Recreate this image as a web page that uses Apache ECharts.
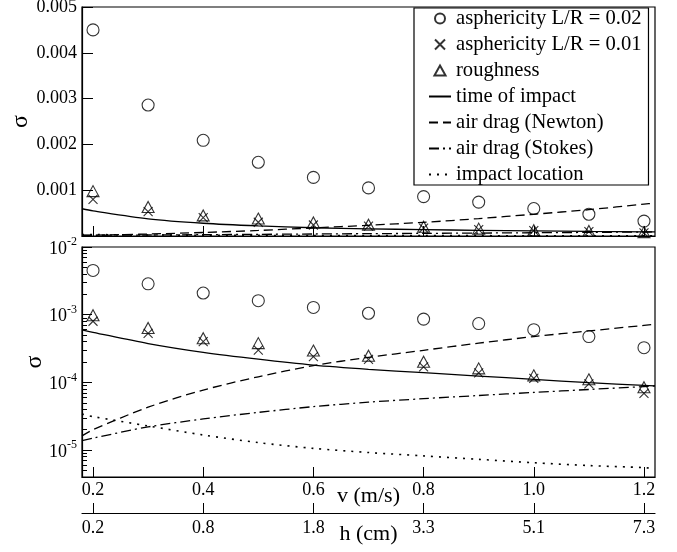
<!DOCTYPE html>
<html>
<head>
<meta charset="utf-8">
<script src="https://cdn.jsdelivr.net/npm/echarts@6/dist/echarts.min.js"></script>
<style>
  html, body { margin: 0; padding: 0; background: #fff; }
  #chart { width: 677px; height: 552px; }
</style>
</head>
<body>
<div id="chart"></div>
<script>
// measured points, v in m/s
var vPoints = [0.2, 0.3, 0.4, 0.5, 0.6, 0.7, 0.8, 0.9, 1.0, 1.1, 1.2];
var aspher002 = [4.5e-3, 2.86e-3, 2.09e-3, 1.61e-3, 1.28e-3, 1.05e-3, 8.6e-4, 7.4e-4, 6.0e-4, 4.75e-4, 3.25e-4];
var aspher001 = [8.0e-4, 5.3e-4, 4.0e-4, 3.0e-4, 2.4e-4, 2.18e-4, 1.7e-4, 1.38e-4, 1.15e-4, 9.5e-5, 6.9e-5];
var roughness = [9.8e-4, 6.35e-4, 4.5e-4, 3.8e-4, 2.95e-4, 2.47e-4, 2.02e-4, 1.61e-4, 1.27e-4, 1.11e-4, 8.5e-5];

// model curves
var vCurve = [0.18, 0.2, 0.3, 0.4, 0.5, 0.6, 0.7, 0.8, 0.9, 1.0, 1.1, 1.2, 1.22];
var timeImpact = [5.95e-4, 5.5e-4, 3.75e-4, 2.78e-4, 2.2e-4, 1.8e-4, 1.56e-4, 1.39e-4, 1.24e-4, 1.11e-4, 9.9e-5, 9.05e-5, 8.9e-5];
var dragNewton = [1.62e-5, 2.0e-5, 4.3e-5, 7.7e-5, 1.21e-4, 1.77e-4, 2.34e-4, 2.98e-4, 3.8e-4, 4.75e-4, 5.75e-4, 6.95e-4, 7.2e-4];
var dragStokes = [1.38e-5, 1.5e-5, 2.2e-5, 2.88e-5, 3.6e-5, 4.38e-5, 5.1e-5, 5.75e-5, 6.4e-5, 7.1e-5, 7.85e-5, 8.67e-5, 8.85e-5];
var impactLoc = [3.4e-5, 3.12e-5, 2.27e-5, 1.67e-5, 1.29e-5, 1.06e-5, 9.2e-6, 8.2e-6, 7.3e-6, 6.5e-6, 5.9e-6, 5.5e-6, 5.3e-6];

// axes
var vTicks = [0.2, 0.4, 0.6, 0.8, 1.0, 1.2];
var hLabels = ['0.2', '0.8', '1.8', '3.3', '5.1', '7.3'];
var linTicks = [0.001, 0.002, 0.003, 0.004, 0.005];
var logDecades = [1e-5, 1e-4, 1e-3, 1e-2];
var logMinorMult = [2, 3, 4, 5, 6, 7, 8, 9];

var names = ['asphericity L/R = 0.02', 'asphericity L/R = 0.01', 'roughness',
  'time of impact', 'air drag (Newton)', 'air drag (Stokes)', 'impact location'];

var serif = 'Liberation Serif';
var logMinor = [];
[1e-6, 1e-5, 1e-4, 1e-3].forEach(function(d) {
  logMinorMult.forEach(function(m) {
    var v = d * m;
    if (v >= 4.1e-6 && v < 1e-2) logMinor.push(v);
  });
});

function pairs(xs, ys) {
  return xs.map(function(x, i) { return [x, ys[i]]; });
}

function seriesFor(xi, yi) {
  var mk = { color: 'transparent', borderColor: '#000', borderWidth: 1.1 };
  var line = function(name, data, type, w) {
    return {
      name: name, type: 'line', xAxisIndex: xi, yAxisIndex: yi,
      data: pairs(vCurve, data), symbol: 'none', smooth: 0.3,
      lineStyle: { color: '#000', width: w || 1.3, type: type },
      itemStyle: { color: '#000' }
    };
  };
  return [
    { name: names[0], type: 'scatter', xAxisIndex: xi, yAxisIndex: yi, data: pairs(vPoints, aspher002),
      symbol: 'circle', symbolSize: 12, itemStyle: mk },
    { name: names[1], type: 'scatter', xAxisIndex: xi, yAxisIndex: yi, data: pairs(vPoints, aspher001),
      symbol: 'path://M0,0L10,10M0,10L10,0', symbolSize: 9, itemStyle: mk },
    { name: names[2], type: 'scatter', xAxisIndex: xi, yAxisIndex: yi, data: pairs(vPoints, roughness),
      symbol: 'triangle', symbolSize: [12, 11], itemStyle: mk },
    line(names[3], timeImpact, 'solid'),
    line(names[4], dragNewton, [9, 5]),
    line(names[5], dragStokes, [10, 4, 2, 4]),
    line(names[6], impactLoc, [2, 6], 1.6)
  ];
}

var chart = echarts.init(document.getElementById('chart'), null, { renderer: 'canvas' });

var xCommon = {
  type: 'value', min: 0.18, max: 1.22,
  axisLine: { lineStyle: { color: '#000', width: 1.2 } },
  axisTick: { inside: true, length: 10, customValues: vTicks, lineStyle: { color: '#000' } },
  splitLine: { show: false }
};

var hiddenDot = { color: 'transparent', borderColor: 'transparent', borderWidth: 0, opacity: 0 };

var option = {
  animation: false,
  backgroundColor: '#fff',
  textStyle: { fontFamily: serif, color: '#000' },
  grid: [
    { left: 82, top: 7, width: 573, height: 229, show: true, borderColor: '#000', borderWidth: 1.2, outerBoundsMode: 'none' },
    { left: 82, top: 247, width: 573, height: 230, show: true, borderColor: '#000', borderWidth: 1.2, outerBoundsMode: 'none' },
    { left: 82, top: 512, width: 573, height: 1, outerBoundsMode: 'none' }
  ],
  xAxis: [
    Object.assign({}, xCommon, { gridIndex: 0, axisLabel: { show: false } }),
    Object.assign({}, xCommon, {
      gridIndex: 1,
      name: 'v (m/s)', nameLocation: 'middle', nameGap: 8, nameMoveOverlap: false,
      nameTextStyle: { fontFamily: serif, fontSize: 22, color: '#000', verticalAlign: 'top' },
      axisLabel: { customValues: vTicks, fontFamily: serif, fontSize: 18, color: '#000', margin: 4,
        formatter: function(v) { return v.toFixed(1); } }
    }),
    Object.assign({}, xCommon, {
      gridIndex: 2,
      name: 'h (cm)', nameLocation: 'middle', nameGap: 10, nameMoveOverlap: false,
      nameTextStyle: { fontFamily: serif, fontSize: 22, color: '#000', verticalAlign: 'top' },
      axisLabel: { customValues: vTicks, fontFamily: serif, fontSize: 18, color: '#000', margin: 6,
        formatter: function(v) {
          var i = Math.round((v - vTicks[0]) / 0.2);
          return hLabels[i] || '';
        } }
    })
  ],
  yAxis: [
    {
      gridIndex: 0, type: 'value', min: 0, max: 0.005,
      name: 'σ', nameLocation: 'middle', nameGap: 49, nameRotate: 90, nameMoveOverlap: false,
      nameTextStyle: { fontFamily: serif, fontSize: 24, color: '#000' },
      axisLine: { lineStyle: { color: '#000', width: 1.2 } },
      axisTick: { inside: true, length: 11, customValues: linTicks, lineStyle: { color: '#000' } },
      axisLabel: { customValues: linTicks, fontFamily: serif, fontSize: 18, color: '#000', margin: 5,
        formatter: function(v) { return v.toFixed(3); } },
      splitLine: { show: false }
    },
    {
      gridIndex: 1, type: 'log', logBase: 10, min: 4e-6, max: 1e-2,
      name: 'σ', nameLocation: 'middle', nameGap: 35, nameRotate: 90, nameMoveOverlap: false,
      nameTextStyle: { fontFamily: serif, fontSize: 24, color: '#000' },
      axisLine: { lineStyle: { color: '#000', width: 1.2 } },
      axisTick: { inside: true, length: 10, customValues: logDecades, lineStyle: { color: '#000' } },
      axisLabel: {
        customValues: logDecades, margin: 5,
        formatter: function(v) {
          var e = Math.round(Math.log10(v));
          return '{b|10}{s|' + e + '}';
        },
        rich: {
          b: { fontFamily: serif, fontSize: 18, color: '#000', lineHeight: 22, verticalAlign: 'bottom' },
          s: { fontFamily: serif, fontSize: 12, color: '#000', lineHeight: 22, verticalAlign: 'top' }
        }
      },
      splitLine: { show: false }
    },
    {
      gridIndex: 1, type: 'log', logBase: 10, min: 4e-6, max: 1e-2, position: 'left',
      axisLine: { show: false },
      axisTick: { inside: true, length: 5, customValues: logMinor, lineStyle: { color: '#000' } },
      axisLabel: { show: false },
      splitLine: { show: false }
    },
    { gridIndex: 2, type: 'value', show: false }
  ],
  legend: {
    data: names.map(function(n, i) {
      if (i === 2) return { name: n, icon: 'path://M5,0L10,9L0,9Z' };
      return i < 3 ? { name: n } : { name: n, itemStyle: hiddenDot };
    }),
    orient: 'vertical',
    left: 414, top: 8,
    padding: [0, 7, 0, 14],
    itemWidth: 22, itemHeight: 10, itemGap: 5,
    borderColor: '#000', borderWidth: 1.2,
    backgroundColor: '#fff',
    textStyle: { fontFamily: serif, fontSize: 20.6, color: '#000', lineHeight: 16 },
    selectedMode: false
  },
  series: seriesFor(0, 0).concat(seriesFor(1, 1))
};

chart.setOption(option);
</script>
</body>
</html>
